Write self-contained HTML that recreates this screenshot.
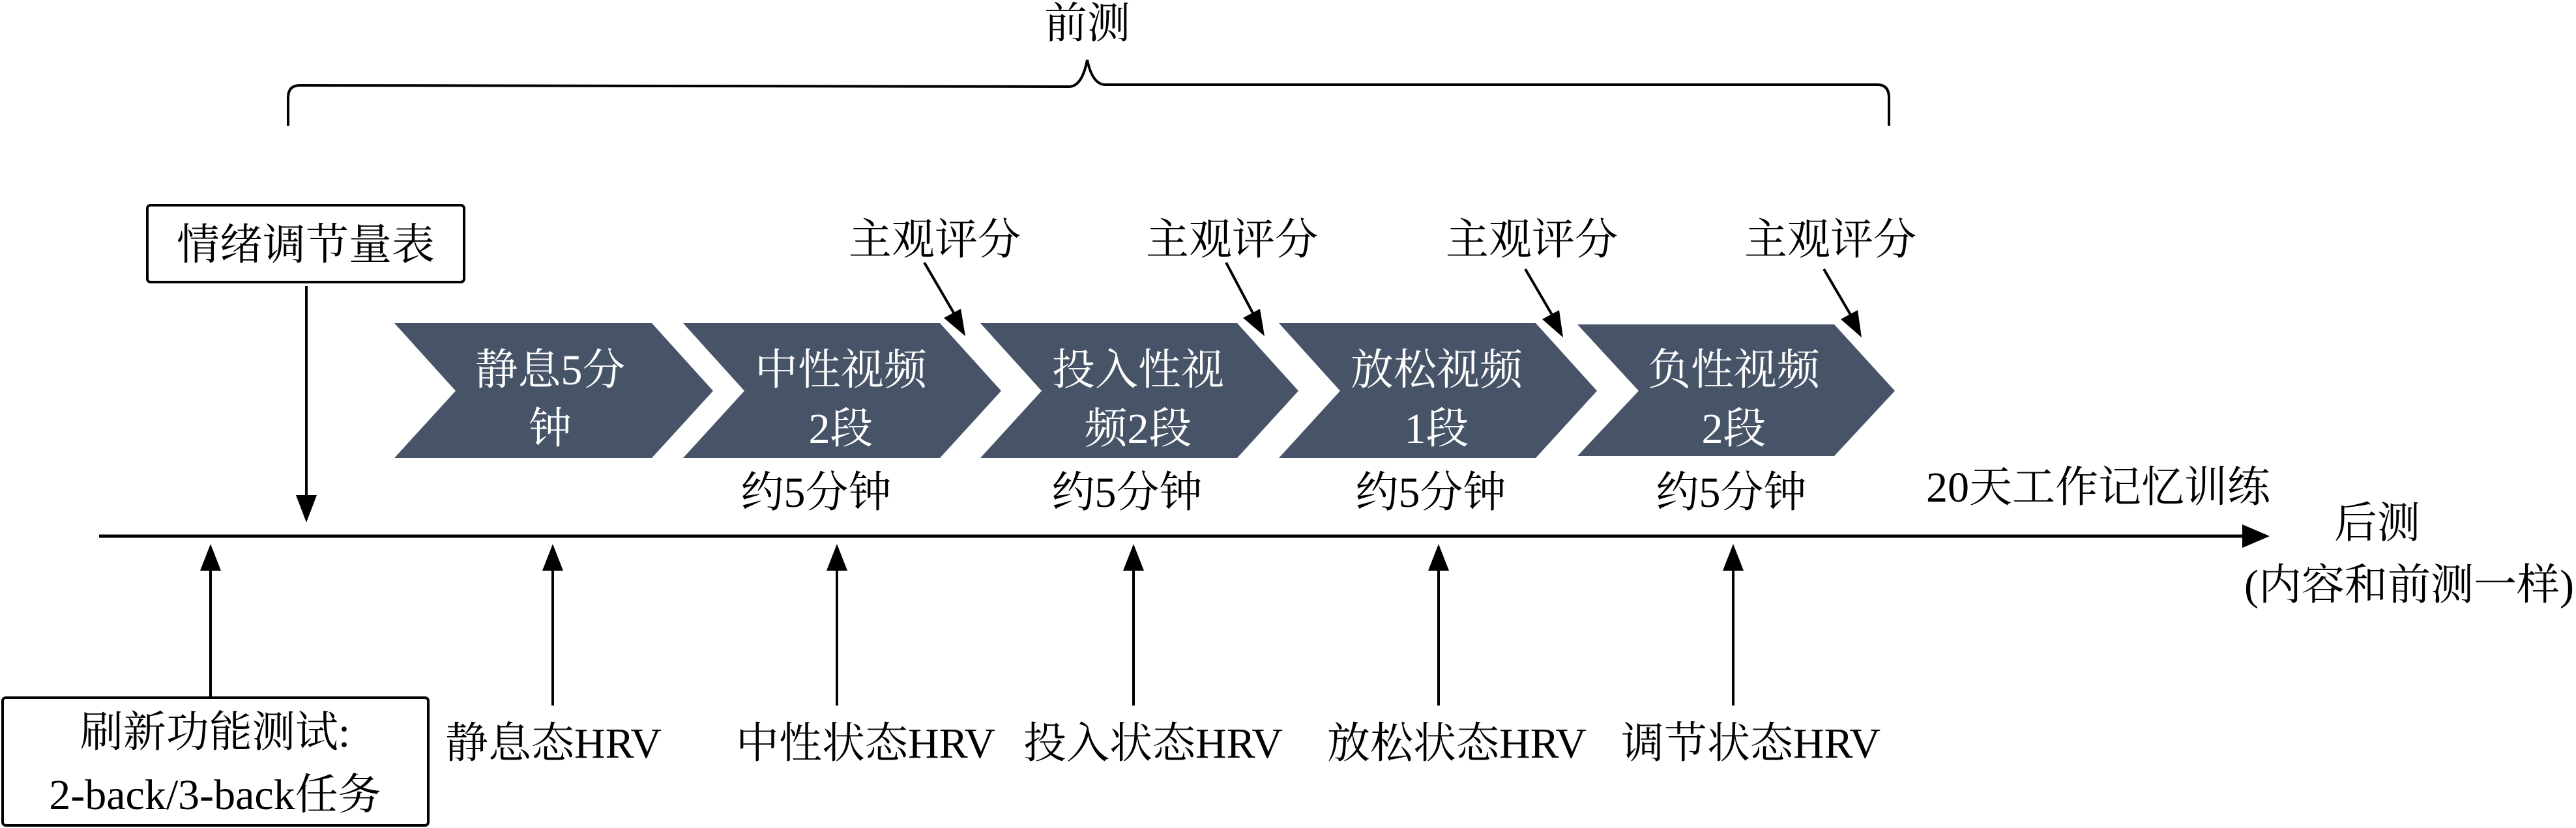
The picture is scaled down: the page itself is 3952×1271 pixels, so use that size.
<!DOCTYPE html>
<html><head><meta charset="utf-8"><style>
html,body{margin:0;padding:0;background:#fff;}
svg{display:block;}
text{font-family:"Liberation Serif","Noto Serif CJK SC","Noto Sans CJK SC",serif;font-size:66px;fill:#000;}
.w{fill:#fff;}
</style></head><body>
<svg width="3952" height="1271" viewBox="0 0 3952 1271" xmlns="http://www.w3.org/2000/svg">
<!-- brace -->
<path d="M442,193 L442,150 Q442,131 460,131 L1640,133 Q1660,133 1668,92 Q1676,130 1696,130 L2880,130 Q2898,130 2898,150 L2898,193" fill="none" stroke="#000" stroke-width="4"/>
<text x="1668" y="58" text-anchor="middle">前测</text>

<rect x="226" y="315" width="486" height="118" rx="5" fill="#fff" stroke="#000" stroke-width="4"/>
<text x="469" y="398" text-anchor="middle">情绪调节量表</text>
<line x1="470" y1="439" x2="470" y2="770" stroke="#000" stroke-width="4"/>
<polygon points="454,760 486,760 470,802" fill="#000"/>

<g fill="#475468">
<polygon points="605,496 1000,496 1094,600 1000,703 605,703 699,600"/>
<polygon points="1048,496 1442,496 1536,600 1442,703 1048,703 1142,600"/>
<polygon points="1504,496 1898,496 1992,600 1898,703 1504,703 1598,600"/>
<polygon points="1962,496 2356,496 2450,600 2356,703 1962,703 2056,600"/>
<polygon points="2420,498 2814,498 2907,600 2814,700 2420,700 2514,600"/>
</g>
<g text-anchor="middle">
<text class="w" x="844" y="590">静息5分</text><text class="w" x="844" y="680">钟</text>
<text class="w" x="1290" y="590">中性视频</text><text class="w" x="1290" y="680">2段</text>
<text class="w" x="1746" y="590">投入性视</text><text class="w" x="1746" y="680">频2段</text>
<text class="w" x="2204" y="590">放松视频</text><text class="w" x="2204" y="680">1段</text>
<text class="w" x="2660" y="590">负性视频</text><text class="w" x="2660" y="680">2段</text>
</g>
<g text-anchor="middle">
<text x="1252" y="778">约5分钟</text>
<text x="1729" y="778">约5分钟</text>
<text x="2195" y="778">约5分钟</text>
<text x="2656" y="778">约5分钟</text>
<text x="3219" y="770">20天工作记忆训练</text>
<text x="3647" y="825">后测</text>
<text x="3696" y="920">(内容和前测一样)</text>
</g>

<g text-anchor="middle">
<text x="1434" y="390">主观评分</text>
<text x="1890" y="390">主观评分</text>
<text x="2350" y="390">主观评分</text>
<text x="2808" y="390">主观评分</text>
</g>
<g stroke="#000" stroke-width="4">
<line x1="1418" y1="403" x2="1470" y2="492"/>
<line x1="1881" y1="403" x2="1928" y2="492"/>
<line x1="2340" y1="413" x2="2388" y2="495"/>
<line x1="2798" y1="413" x2="2846" y2="495"/>
</g>
<g fill="#000">
<polygon points="1481,516 1448,488 1474,474"/>
<polygon points="1940,516 1907,488 1933,474"/>
<polygon points="2398,518 2366,490 2392,476"/>
<polygon points="2856,518 2824,490 2850,476"/>
</g>

<line x1="152" y1="823" x2="3450" y2="823" stroke="#000" stroke-width="5"/>
<polygon points="3440,805 3482,823 3440,841" fill="#000"/>

<g stroke="#000" stroke-width="4">
<line x1="323" y1="860" x2="323" y2="1071"/>
<line x1="848" y1="860" x2="848" y2="1083"/>
<line x1="1284" y1="860" x2="1284" y2="1083"/>
<line x1="1739" y1="860" x2="1739" y2="1083"/>
<line x1="2207" y1="860" x2="2207" y2="1083"/>
<line x1="2659" y1="860" x2="2659" y2="1083"/>
</g>
<g fill="#000">
<polygon points="307,876 339,876 323,835"/>
<polygon points="832,876 864,876 848,835"/>
<polygon points="1268,876 1300,876 1284,835"/>
<polygon points="1723,876 1755,876 1739,835"/>
<polygon points="2191,876 2223,876 2207,835"/>
<polygon points="2643,876 2675,876 2659,835"/>
</g>

<rect x="4" y="1071" width="653" height="196" rx="5" fill="#fff" stroke="#000" stroke-width="4"/>
<g text-anchor="middle">
<text x="330" y="1146">刷新功能测试:</text>
<text x="330" y="1242">2-back/3-back任务</text>
<text x="849" y="1163">静息态HRV</text>
<text x="1328" y="1163">中性状态HRV</text>
<text x="1769" y="1163">投入状态HRV</text>
<text x="2235" y="1163">放松状态HRV</text>
<text x="2686" y="1163">调节状态HRV</text>
</g>
</svg>
</body></html>
